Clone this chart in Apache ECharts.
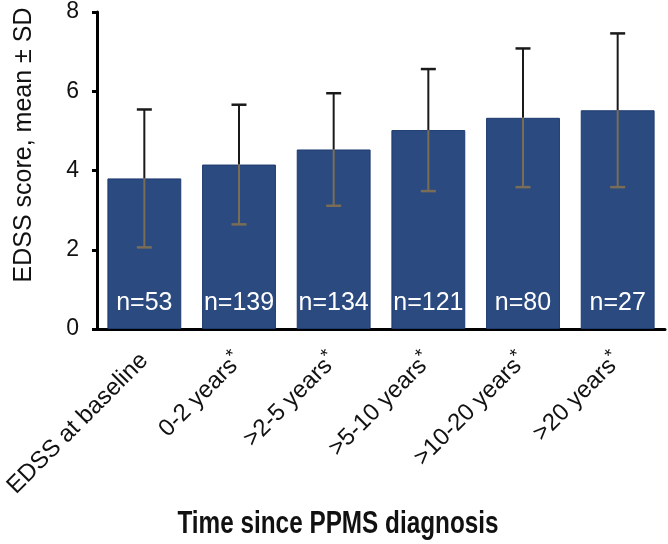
<!DOCTYPE html>
<html>
<head>
<meta charset="utf-8">
<script src="https://cdn.jsdelivr.net/npm/echarts@6/dist/echarts.min.js"></script>
<style>html,body{margin:0;padding:0;background:#fff}#c{width:668px;height:544px}</style>
</head>
<body>
<div id="c"></div>
<script>
var categories = ['EDSS at baseline', '0-2 years', '>2-5 years', '>5-10 years', '>10-20 years', '>20 years'];
var starred = [false, true, true, true, true, true];
var means = [3.80, 4.15, 4.53, 5.02, 5.33, 5.52];
var sds = [1.74, 1.51, 1.42, 1.54, 1.75, 1.94];
var nLabels = ['n=53', 'n=139', 'n=134', 'n=121', 'n=80', 'n=27'];
var yTicks = [0, 2, 4, 6, 8];

var FONT = 'Liberation Sans, Arial, sans-serif';
var chart = echarts.init(document.getElementById('c'));

var errData = means.map(function (m, i) { return [i, m, m - sds[i], m + sds[i]]; });

chart.setOption({
  animation: false,
  grid: { left: 97, right: 3, top: 12, bottom: 215, containLabel: false },
  xAxis: {
    type: 'category',
    data: categories,
    axisLine: { lineStyle: { color: '#000', width: 3 } },
    axisTick: { show: false },
    axisLabel: {
      interval: 0, rotate: 45, margin: 28,
      fontFamily: FONT, fontSize: 24, color: '#111',
      formatter: function (v, i) { return starred[i] ? v + '{sup|*}' : v; },
      rich: { sup: { fontFamily: FONT, fontSize: 19, color: '#111', padding: [0, 0, 12, 0] } }
    }
  },
  yAxis: {
    type: 'value', min: 0, max: 8, interval: 2,
    axisLine: { show: true, lineStyle: { color: '#000', width: 3 } },
    axisTick: { show: true, length: 5, lineStyle: { color: '#000', width: 3 } },
    splitLine: { show: false },
    axisLabel: {
      margin: 18, fontFamily: FONT, fontSize: 23, color: '#111',
      formatter: function (v) { return yTicks.indexOf(v) >= 0 ? String(v) : ''; }
    }
  },
  series: [
    {
      type: 'bar',
      data: means,
      barCategoryGap: '22%',
      itemStyle: { color: '#2b4a80', borderColor: '#1d3a6e', borderWidth: 1 },
      label: {
        show: true, position: 'insideBottom', distance: 13,
        fontFamily: FONT, fontSize: 25, color: '#fff', lineHeight: 26,
        formatter: function (p) { return nLabels[p.dataIndex]; }
      },
      z: 2
    },
    {
      type: 'custom',
      data: errData,
      z: 5,
      renderItem: function (params, api) {
        var x = api.value(0);
        var pm = api.coord([x, api.value(1)]);
        var plo = api.coord([x, api.value(2)]);
        var phi = api.coord([x, api.value(3)]);
        var hw = 7.5;
        return {
          type: 'group',
          children: [
            { type: 'line', shape: { x1: pm[0], y1: pm[1], x2: phi[0], y2: phi[1] }, style: { stroke: '#1a1a1a', lineWidth: 2 } },
            { type: 'line', shape: { x1: phi[0] - hw, y1: phi[1], x2: phi[0] + hw, y2: phi[1] }, style: { stroke: '#1a1a1a', lineWidth: 2.5 } },
            { type: 'line', shape: { x1: pm[0], y1: pm[1], x2: plo[0], y2: plo[1] }, style: { stroke: '#7a6d55', lineWidth: 2 } },
            { type: 'line', shape: { x1: plo[0] - hw, y1: plo[1], x2: plo[0] + hw, y2: plo[1] }, style: { stroke: '#7a6d55', lineWidth: 2.5 } }
          ]
        };
      }
    }
  ],
  graphic: [
    {
      type: 'text', rotation: Math.PI / 2,
      x: 12, y: 145,
      style: { text: 'EDSS score, mean ± SD', font: '25px ' + FONT, fill: '#111', textAlign: 'center', textVerticalAlign: 'top' }
    },
    {
      type: 'text', x: 338, y: 524, scaleX: 0.76,
      style: { text: 'Time since PPMS diagnosis', font: 'bold 32px ' + FONT, fill: '#111', textAlign: 'center', textVerticalAlign: 'middle' }
    }
  ]
});
</script>
</body>
</html>
